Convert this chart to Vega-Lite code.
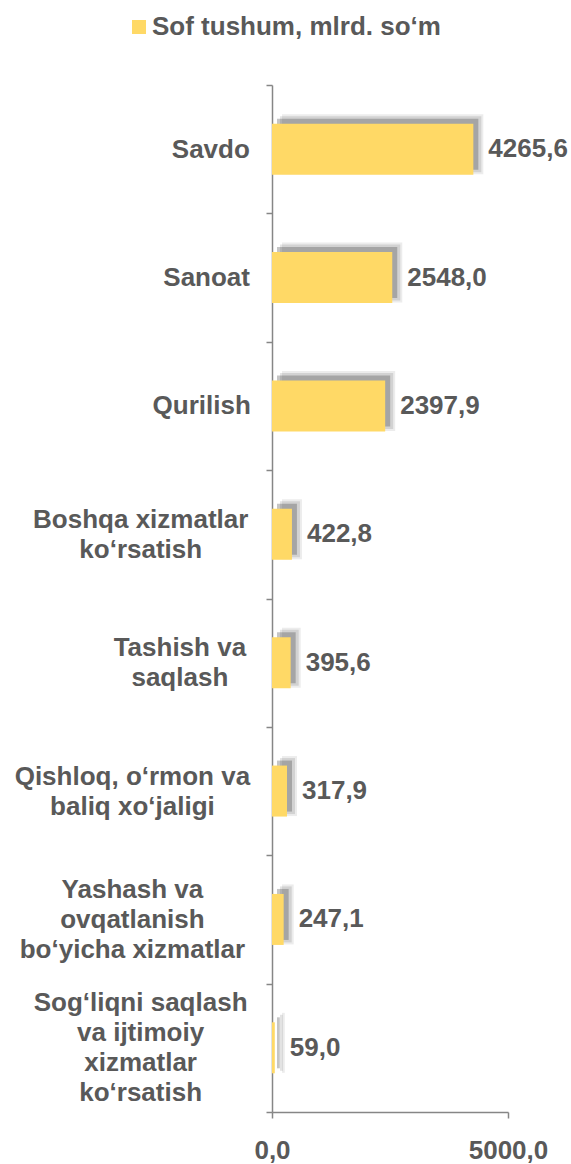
{
  "$schema": "https://vega.github.io/schema/vega-lite/v6.json",
  "width": 236,
  "height": 1027,
  "autosize": {"type": "none"},
  "padding": {"left": 272, "top": 85, "right": 63, "bottom": 52},
  "background": "white",
  "config": {
    "locale": {"number": {"decimal": ",", "thousands": "", "grouping": [3], "currency": ["", ""]}},
    "view": {"stroke": null},
    "font": "Liberation Sans"
  },
  "data": {
    "values": [
      {"sector": "Savdo", "value": 4265.6, "series": "Sof tushum, mlrd. so‘m"},
      {"sector": "Sanoat", "value": 2548.0, "series": "Sof tushum, mlrd. so‘m"},
      {"sector": "Qurilish", "value": 2397.9, "series": "Sof tushum, mlrd. so‘m"},
      {"sector": "Boshqa xizmatlar|ko‘rsatish", "value": 422.8, "series": "Sof tushum, mlrd. so‘m"},
      {"sector": "Tashish va|saqlash", "value": 395.6, "series": "Sof tushum, mlrd. so‘m"},
      {"sector": "Qishloq, o‘rmon va|baliq xo‘jaligi", "value": 317.9, "series": "Sof tushum, mlrd. so‘m"},
      {"sector": "Yashash va|ovqatlanish|bo‘yicha xizmatlar", "value": 247.1, "series": "Sof tushum, mlrd. so‘m"},
      {"sector": "Sog‘liqni saqlash|va ijtimoiy|xizmatlar|ko‘rsatish", "value": 59.0, "series": "Sof tushum, mlrd. so‘m"}
    ]
  },
  "encoding": {
    "y": {
      "field": "sector",
      "type": "nominal",
      "sort": null,
      "scale": {"paddingInner": 0, "paddingOuter": 0},
      "axis": {
        "title": null,
        "labelExpr": "datum.value ? split(datum.value, '|') : ''",
        "labelAlign": "center",
        "labelBaseline": "middle",
        "labelFont": "Liberation Sans",
        "labelFontWeight": "bold",
        "labelFontSize": 26,
        "labelLineHeight": 30,
        "labelColor": "#595959",
        "labelLimit": 400,
        "labelPadding": 18,
        "tickBand": "extent",
        "tickSize": 6,
        "tickColor": "#868686",
        "domainColor": "#868686",
        "domainWidth": 1.5,
        "tickWidth": 1.5,
        "grid": false,
        "encoding": {
          "labels": {
            "dy": {"value": {"expr": "datum.value ? -(length(split(datum.value, '|')) - 1) * 15 : 0"}},
            "dx": {"value": {"expr": "datum.value ? -13 * max(0.58*length(split(datum.value,'|')[0] || '') - 0.26*length(replace(split(datum.value,'|')[0] || '', regexp('[^iljtfr ‘,.]','g'), '')) + 0.31*length(replace(split(datum.value,'|')[0] || '', regexp('[^m]','g'), '')), 0.58*length(split(datum.value,'|')[1] || '') - 0.26*length(replace(split(datum.value,'|')[1] || '', regexp('[^iljtfr ‘,.]','g'), '')) + 0.31*length(replace(split(datum.value,'|')[1] || '', regexp('[^m]','g'), '')), 0.58*length(split(datum.value,'|')[2] || '') - 0.26*length(replace(split(datum.value,'|')[2] || '', regexp('[^iljtfr ‘,.]','g'), '')) + 0.31*length(replace(split(datum.value,'|')[2] || '', regexp('[^m]','g'), '')), 0.58*length(split(datum.value,'|')[3] || '') - 0.26*length(replace(split(datum.value,'|')[3] || '', regexp('[^iljtfr ‘,.]','g'), '')) + 0.31*length(replace(split(datum.value,'|')[3] || '', regexp('[^m]','g'), ''))) : 0"}}
          }
        }
      }
    },
    "x": {
      "field": "value",
      "type": "quantitative",
      "scale": {"domain": [0, 5000], "nice": false},
      "axis": {
        "title": null,
        "values": [0, 5000],
        "format": ".1f",
        "labelFont": "Liberation Sans",
        "labelFontWeight": "bold",
        "labelFontSize": 26,
        "labelColor": "#595959",
        "labelPadding": 19,
        "tickSize": 6,
        "tickColor": "#868686",
        "domainColor": "#868686",
        "domainWidth": 1.5,
        "tickWidth": 1.5,
        "grid": false,
        "labelFlush": false,
        "labelOverlap": false
      }
    }
  },
  "layer": [
    {
      "mark": {"type": "bar", "size": 60, "color": "#404040", "opacity": 0.1, "xOffset": 10, "x2Offset": 3, "yOffset": -5},
      "encoding": {}
    },
    {
      "mark": {"type": "bar", "size": 56, "color": "#404040", "opacity": 0.15, "xOffset": 8, "x2Offset": 4, "yOffset": -5},
      "encoding": {}
    },
    {
      "mark": {"type": "bar", "size": 51, "color": "#404040", "opacity": 0.3, "xOffset": 5, "x2Offset": 6, "yOffset": -5},
      "encoding": {}
    },
    {
      "mark": {"type": "bar", "size": 51},
      "encoding": {
        "color": {
          "field": "series",
          "type": "nominal",
          "scale": {"range": ["#FFD966"]},
          "legend": {
            "title": null,
            "orient": "none",
            "legendX": -146,
            "legendY": -71,
            "symbolType": "square",
            "symbolSize": 196,
            "symbolStrokeWidth": 0,
            "labelFont": "Liberation Sans",
            "labelFontWeight": "bold",
            "labelFontSize": 26,
            "labelColor": "#595959",
            "labelOffset": 0,
            "labelLimit": 500,
            "padding": 0
          }
        }
      }
    },
    {
      "mark": {"type": "text", "align": "left", "baseline": "middle", "dx": 15, "font": "Liberation Sans", "fontWeight": "bold", "fontSize": 26, "color": "#595959"},
      "encoding": {
        "text": {"field": "value", "type": "quantitative", "format": ".1f"}
      }
    }
  ]
}
